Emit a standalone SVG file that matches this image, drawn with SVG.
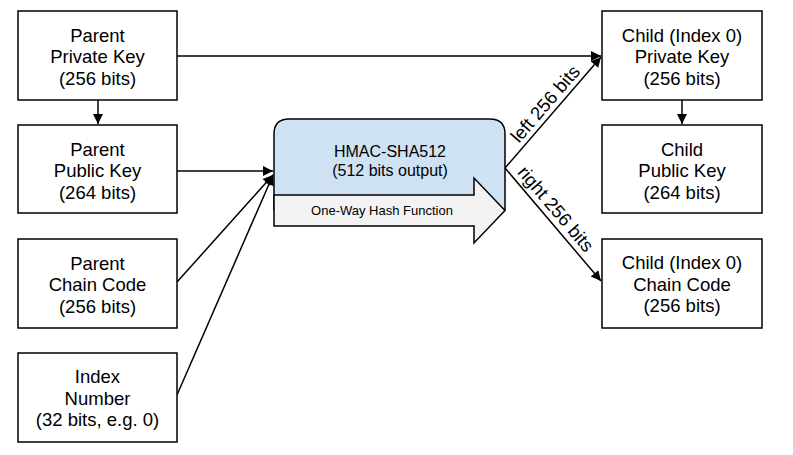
<svg xmlns="http://www.w3.org/2000/svg" width="793" height="455" viewBox="0 0 793 455">
<style>
.box{fill:#fff;stroke:#000;stroke-width:1.5}
.t{font-family:"Liberation Sans",Arial,sans-serif;font-size:18.5px;fill:#000;text-anchor:middle}
.s{font-family:"Liberation Sans",Arial,sans-serif;font-size:16px;fill:#000;text-anchor:middle}
.xs{font-family:"Liberation Sans",Arial,sans-serif;font-size:13px;fill:#000;text-anchor:middle}
.c{fill:none;stroke:#000;stroke-width:1.5}
</style>
<defs>
<marker id="ah" viewBox="0 0 10 10" refX="10" refY="5" markerWidth="13" markerHeight="10" markerUnits="userSpaceOnUse" orient="auto">
<path d="M0,0 L10,5 L0,10 Z" fill="#000"/>
</marker>
</defs>
<rect width="793" height="455" fill="#fff"/>
<g id="connectors">
<path class="c" d="M177,56 H601" marker-end="url(#ah)"/>
<path class="c" d="M98,100 V124" marker-end="url(#ah)"/>
<path class="c" d="M682,100 V124" marker-end="url(#ah)"/>
<path class="c" d="M177,171 H273" marker-end="url(#ah)"/>
<path class="c" d="M177,282 L273,175" marker-end="url(#ah)"/>
<path class="c" d="M177,395 L273,175" marker-end="url(#ah)"/>
<path class="c" d="M505,168 L601,57" marker-end="url(#ah)"/>
<path class="c" d="M505,168 L601,281" marker-end="url(#ah)"/>
<text class="t" transform="translate(550,108) rotate(-49.1)">left 256 bits</text>
<text class="t" transform="translate(551,213) rotate(49.6)">right 256 bits</text>
</g>
<g id="parent-private">
<rect class="box" x="18" y="11" width="159" height="89"/>
<text class="t" x="97.5" y="41.5">Parent</text>
<text class="t" x="97.5" y="63">Private Key</text>
<text class="t" x="97.5" y="84.5">(256 bits)</text>
</g>
<g id="parent-public">
<rect class="box" x="18" y="125" width="159" height="88"/>
<text class="t" x="97.5" y="155.5">Parent</text>
<text class="t" x="97.5" y="177">Public Key</text>
<text class="t" x="97.5" y="198.5">(264 bits)</text>
</g>
<g id="parent-chain">
<rect class="box" x="18" y="239" width="159" height="89"/>
<text class="t" x="97.5" y="269.5">Parent</text>
<text class="t" x="97.5" y="291">Chain Code</text>
<text class="t" x="97.5" y="312.5">(256 bits)</text>
</g>
<g id="index-number">
<rect class="box" x="18" y="353" width="159" height="89"/>
<text class="t" x="97.5" y="383">Index</text>
<text class="t" x="97.5" y="404.5">Number</text>
<text class="t" x="97.5" y="426">(32 bits, e.g. 0)</text>
</g>
<g id="hmac">
<path d="M274,210 V134 Q274,119 289,119 H490 Q505,119 505,134 V210 Z" fill="#cfe2f3" stroke="#000" stroke-width="1.5"/>
<path d="M274,195 H474 V178 L505,210.5 L474,243 V226 H274 Z" fill="#f3f3f3" stroke="#000" stroke-width="1.5" stroke-linejoin="miter"/>
<text class="s" x="390" y="157">HMAC-SHA512</text>
<text class="s" x="390" y="176">(512 bits output)</text>
<text class="xs" x="382" y="215">One-Way Hash Function</text>
</g>
<g id="child-private">
<rect class="box" x="602" y="11" width="160" height="89"/>
<text class="t" x="682" y="41.5">Child (Index 0)</text>
<text class="t" x="682" y="63">Private Key</text>
<text class="t" x="682" y="84.5">(256 bits)</text>
</g>
<g id="child-public">
<rect class="box" x="602" y="125" width="160" height="88"/>
<text class="t" x="682" y="155.5">Child</text>
<text class="t" x="682" y="177">Public Key</text>
<text class="t" x="682" y="198.5">(264 bits)</text>
</g>
<g id="child-chain">
<rect class="box" x="602" y="239" width="160" height="89"/>
<text class="t" x="682" y="269">Child (Index 0)</text>
<text class="t" x="682" y="290.5">Chain Code</text>
<text class="t" x="682" y="312">(256 bits)</text>
</g>
</svg>
